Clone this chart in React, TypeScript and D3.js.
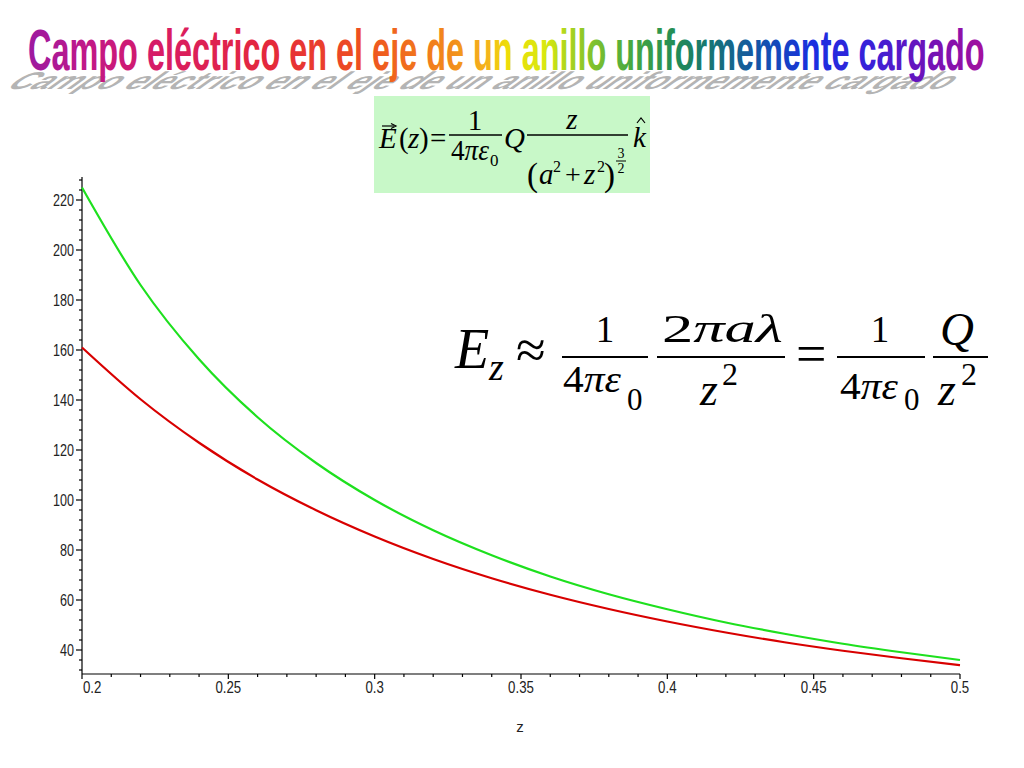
import React, { useLayoutEffect, useRef, useState } from "react";
import * as d3 from "d3";

const zValues = [0.2, 0.22, 0.24, 0.26, 0.28, 0.3, 0.32, 0.34, 0.36, 0.38, 0.4, 0.42, 0.44, 0.46, 0.48, 0.5];
// exact field on the ring axis (red)
const exactField = [161.0, 140.3, 122.9, 108.2, 95.9, 85.4, 76.4, 68.7, 62.1, 56.4, 51.4, 47.0, 43.1, 39.7, 36.7, 33.9];
// far-field approximation Q/(4πε0 z²) (green)
const approxField = [225.0, 186.0, 156.3, 133.1, 114.8, 100.0, 87.9, 77.9, 69.4, 62.3, 56.3, 51.0, 46.5, 42.5, 39.1, 36.0];

const xTicks = [0.2, 0.25, 0.3, 0.35, 0.4, 0.45, 0.5];
const xTickLabels = ["0.2", "0.25", "0.3", "0.35", "0.4", "0.45", "0.5"];
const yTicks = [40, 60, 80, 100, 120, 140, 160, 180, 200, 220];
const xMinor = [0.21, 0.22, 0.23, 0.24, 0.26, 0.27, 0.28, 0.29, 0.31, 0.32, 0.33, 0.34, 0.36, 0.37, 0.38, 0.39, 0.41, 0.42, 0.43, 0.44, 0.46, 0.47, 0.48, 0.49];
const yMinor = [32, 36, 44, 48, 52, 56, 64, 68, 72, 76, 84, 88, 92, 96, 104, 108, 112, 116, 124, 128, 132, 136, 144, 148, 152, 156, 164, 168, 172, 176, 184, 188, 192, 196, 204, 208, 212, 216, 224, 228];

const title = "Campo eléctrico en el eje de un anillo uniformemente cargado";
const xLabel = "z";

const W = 1024;
const H = 768;

const serif = "'Liberation Serif', 'Times New Roman', serif";
const sans = "'Liberation Sans', Arial, sans-serif";

const TITLE_X = 28;
const TITLE_W = 957;

export default function App() {
  const x = d3.scaleLinear().domain([0.2, 0.5]).range([82, 960]);
  const y = d3.scaleLinear().domain([30.4, 229.2]).range([674, 177]);

  const line = d3
    .line<number>()
    .x((_, i) => x(zValues[i]))
    .y((d) => y(d))
    .curve(d3.curveMonotoneX);

  const measureRef = useRef<SVGTextElement>(null);
  const [natural, setNatural] = useState(1840);
  useLayoutEffect(() => {
    if (measureRef.current) {
      const len = measureRef.current.getComputedTextLength();
      if (len > 0) setNatural(len);
    }
  }, []);
  const sx = TITLE_W / natural;
  const sxShadow = 940 / natural;

  const gradStops = [
    [0, "#9c1aa0"],
    [0.06, "#c01888"],
    [0.14, "#d81c64"],
    [0.25, "#e4283c"],
    [0.35, "#ee5020"],
    [0.44, "#f28a1c"],
    [0.48, "#f4b41c"],
    [0.5, "#eedc08"],
    [0.54, "#d8e810"],
    [0.58, "#90c828"],
    [0.63, "#48a840"],
    [0.68, "#208a58"],
    [0.72, "#16707a"],
    [0.77, "#1450b0"],
    [0.82, "#1a2ee0"],
    [0.88, "#3a20d8"],
    [0.94, "#7012b8"],
    [1, "#a4109c"],
  ];

  const tickFont = { fontFamily: sans, fontSize: 17, fill: "#222" };

  return (
    <svg
      width={W}
      height={H}
      viewBox={`0 0 ${W} ${H}`}
      style={{ position: "absolute", left: 0, top: 0, background: "#fff" }}
    >
      <defs>
        <linearGradient id="rainbow" gradientUnits="userSpaceOnUse" x1={0} y1={0} x2={natural} y2={0}>
          {gradStops.map(([o, c]) => (
            <stop key={String(o)} offset={o as number} stopColor={c as string} />
          ))}
        </linearGradient>
      </defs>
      <rect x={0} y={0} width={W} height={H} fill="#fff" />

      {/* hidden measuring copy of the title */}
      <text
        ref={measureRef}
        x={0}
        y={-100}
        fontFamily={sans}
        fontWeight="bold"
        fontSize={58}
        visibility="hidden"
      >
        {title}
      </text>

      {/* Title shadow (flattened, sheared back to the left) */}
      <g transform={`translate(${TITLE_X - 24},89) matrix(1,0,-0.58,0.42,0,0) scale(${sxShadow},1)`}>
        <text x={0} y={0} fontFamily={sans} fontWeight="bold" fontSize={58} fill="#b4b4b4">
          {title}
        </text>
      </g>
      {/* Title */}
      <g transform={`translate(${TITLE_X},70) scale(${sx},1)`}>
        <text x={0} y={0} fontFamily={sans} fontWeight="bold" fontSize={58} fill="url(#rainbow)">
          {title}
        </text>
      </g>

      {/* Small formula box */}
      <rect x={374} y={96} width={276} height={97} fill="#c8f8c8" />
      <g fontFamily={serif} fill="#000">
        <text x={379} y={148} fontSize={29} fontStyle="italic">E</text>
        <line x1={382} x2={394} y1={126} y2={126} stroke="#000" strokeWidth={1.2} />
        <path d="M391,123.5 L396,126 L391,128.5" fill="none" stroke="#000" strokeWidth={1.2} />
        <text x={399} y={148} fontSize={29}>(</text>
        <text x={408} y={148} fontSize={29} fontStyle="italic">z</text>
        <text x={419} y={148} fontSize={29}>)</text>
        <text x={430} y={148} fontSize={29}>=</text>
        <text x={475} y={130} fontSize={29} textAnchor="middle">1</text>
        <line x1={449} x2={502} y1={135} y2={135} stroke="#000" strokeWidth={1.3} />
        <text x={451} y={160} fontSize={29} textLength={38} lengthAdjust="spacingAndGlyphs">
          4<tspan fontStyle="italic">πε</tspan>
        </text>
        <text x={490} y={166} fontSize={17}>0</text>
        <text x={504} y={148} fontSize={29} fontStyle="italic">Q</text>
        <line x1={527} x2={628} y1={135} y2={135} stroke="#000" strokeWidth={1.3} />
        <text x={572} y={129} fontSize={29} fontStyle="italic" textAnchor="middle">z</text>
        <text x={527} y={186} fontSize={33}>(</text>
        <text x={539} y={184} fontSize={29} fontStyle="italic">a</text>
        <text x={553} y={172} fontSize={16}>2</text>
        <text x={565} y={184} fontSize={28}>+</text>
        <text x={584} y={184} fontSize={29} fontStyle="italic">z</text>
        <text x={597} y={172} fontSize={16}>2</text>
        <text x={604} y={186} fontSize={33}>)</text>
        <text x={621} y={158} fontSize={14} textAnchor="middle">3</text>
        <line x1={616} x2={626} y1={161} y2={161} stroke="#000" strokeWidth={1} />
        <text x={621} y={173} fontSize={14} textAnchor="middle">2</text>
        <text x={633} y={147} fontSize={29} fontStyle="italic">k</text>
        <path d="M637,123 L641,118 L645,123" fill="none" stroke="#000" strokeWidth={1.2} />
      </g>

      {/* Big formula */}
      <g fontFamily={serif} fill="#000">
        <text x={455} y={368} fontSize={56} fontStyle="italic">E</text>
        <text x={489} y={380} fontSize={38} fontStyle="italic">z</text>
        <text x={516} y={368} fontSize={54}>≈</text>
        <line x1={562} x2={648} y1={357} y2={357} stroke="#000" strokeWidth={2} />
        <text x={605} y={342} fontSize={37} textAnchor="middle">1</text>
        <text x={563} y={392} fontSize={37} textLength={58} lengthAdjust="spacingAndGlyphs">
          4<tspan fontStyle="italic">πε</tspan>
        </text>
        <text x={627} y={410} fontSize={31}>0</text>
        <text x={662} y={342} fontSize={39} textLength={121} lengthAdjust="spacingAndGlyphs">
          2<tspan fontStyle="italic">πaλ</tspan>
        </text>
        <line x1={657} x2={785} y1={357} y2={357} stroke="#000" strokeWidth={2} />
        <text x={700} y={405} fontSize={46} fontStyle="italic">z</text>
        <text x={722} y={385} fontSize={32}>2</text>
        <text x={796} y={372} fontSize={54}>=</text>
        <line x1={837} x2={925} y1={357} y2={357} stroke="#000" strokeWidth={2} />
        <text x={880} y={342} fontSize={37} textAnchor="middle">1</text>
        <text x={840} y={399} fontSize={37} textLength={58} lengthAdjust="spacingAndGlyphs">
          4<tspan fontStyle="italic">πε</tspan>
        </text>
        <text x={904} y={410} fontSize={31}>0</text>
        <text x={940} y={345} fontSize={47} fontStyle="italic">Q</text>
        <line x1={933} x2={988} y1={357} y2={357} stroke="#000" strokeWidth={2} />
        <text x={938} y={405} fontSize={46} fontStyle="italic">z</text>
        <text x={961} y={385} fontSize={32}>2</text>
      </g>

      {/* Axes */}
      <g stroke="#000" strokeWidth={1.2}>
        <line x1={x(0.2)} x2={x(0.5)} y1={y(30.4)} y2={y(30.4)} />
        <line x1={x(0.2)} x2={x(0.2)} y1={y(30.4)} y2={y(229.2)} />
        {xTicks.map((t) => (
          <line key={"xt" + t} x1={x(t)} x2={x(t)} y1={y(30.4)} y2={y(30.4) + 5} />
        ))}
        {xMinor.map((t) => (
          <line key={"xm" + t} x1={x(t)} x2={x(t)} y1={y(30.4)} y2={y(30.4) + 3} />
        ))}
        {yTicks.map((t) => (
          <line key={"yt" + t} x1={x(0.2) - 6} x2={x(0.2)} y1={y(t)} y2={y(t)} />
        ))}
        {yMinor.map((t) => (
          <line key={"ym" + t} x1={x(0.2) - 3} x2={x(0.2)} y1={y(t)} y2={y(t)} />
        ))}
      </g>
      {xTicks.map((t, i) => (
        <text
          key={"xl" + t}
          transform={`translate(${i === 0 ? x(t) + 1 : x(t)},${y(30.4) + 19}) scale(0.78,1)`}
          textAnchor={i === 0 ? "start" : "middle"}
          {...tickFont}
        >
          {xTickLabels[i]}
        </text>
      ))}
      {yTicks.map((t) => (
        <text
          key={"yl" + t}
          transform={`translate(${x(0.2) - 8},${y(t) + 6}) scale(0.74,1)`}
          textAnchor="end"
          {...tickFont}
        >
          {t}
        </text>
      ))}
      <text x={520} y={732} textAnchor="middle" {...tickFont} fontSize={15}>
        {xLabel}
      </text>

      {/* Curves */}
      <path d={line(approxField) || ""} fill="none" stroke="#1ee01e" strokeWidth={2.2} />
      <path d={line(exactField) || ""} fill="none" stroke="#d80000" strokeWidth={2.2} />
    </svg>
  );
}
